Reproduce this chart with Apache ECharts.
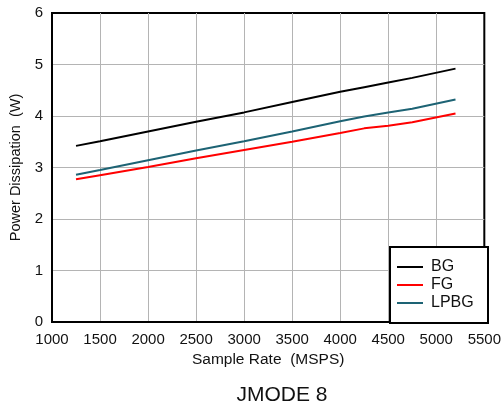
<!DOCTYPE html>
<html>
<head>
<meta charset="utf-8">
<script src="https://cdn.jsdelivr.net/npm/echarts@6/dist/echarts.min.js"></script>
<style>html,body{margin:0;padding:0;background:#fff;}#c{width:504px;height:407px;}</style>
</head>
<body>
<div id="c"></div>
<script>
var sampleRates = [1250, 1500, 2000, 2500, 3000, 3500, 4000, 4250, 4500, 4750, 5200];
var bgValues   = [3.42, 3.51, 3.70, 3.89, 4.07, 4.27, 4.47, 4.56, 4.65, 4.74, 4.92];
var fgValues   = [2.77, 2.85, 3.01, 3.18, 3.34, 3.50, 3.67, 3.76, 3.81, 3.88, 4.05];
var lpbgValues = [2.86, 2.95, 3.14, 3.33, 3.51, 3.70, 3.90, 3.99, 4.07, 4.14, 4.32];
var seriesNames = ['BG', 'FG', 'LPBG'];
var seriesColors = ['#000000', '#ff0000', '#1d6374'];

function pairs(xs, ys) { return xs.map(function (x, i) { return [x, ys[i]]; }); }

var font = 'Liberation Sans, Arial, sans-serif';
var chart = echarts.init(document.getElementById('c'), null, {renderer: 'canvas'});
chart.setOption({
  animation: false,
  backgroundColor: '#fff',
  textStyle: {fontFamily: font},
  title: {
    text: 'JMODE 8', left: 277, top: 380, textAlign: 'center',
    textStyle: {fontSize: 21, fontWeight: 'normal', color: '#111', fontFamily: font}
  },
  grid: {left: 52, right: 17, top: 13, bottom: 85, show: true, borderColor: '#000', borderWidth: 2, backgroundColor: 'transparent'},
  xAxis: {
    type: 'value', min: 1000, max: 5500, interval: 500,
    name: 'Sample Rate  (MSPS)', nameLocation: 'middle', nameGap: 30,
    nameTextStyle: {fontSize: 15.5, color: '#111', fontFamily: font},
    axisLine: {show: true, lineStyle: {color: '#000', width: 2}},
    axisTick: {show: false},
    axisLabel: {fontSize: 15, color: '#111', margin: 10, fontFamily: font, formatter: function (v) { return String(v); }},
    splitLine: {show: true, showMinLine: false, showMaxLine: false, lineStyle: {color: '#b4b4b4', width: 1}}
  },
  yAxis: {
    type: 'value', min: 0, max: 6, interval: 1,
    name: 'Power Dissipation  (W)', nameLocation: 'middle', nameGap: 29,
    nameTextStyle: {fontSize: 14.5, color: '#111', fontFamily: font},
    axisLine: {show: true, lineStyle: {color: '#000', width: 2}},
    axisTick: {show: false},
    axisLabel: {fontSize: 15, color: '#111', margin: 9, fontFamily: font},
    splitLine: {show: true, showMinLine: false, showMaxLine: false, lineStyle: {color: '#b4b4b4', width: 1}}
  },
  graphic: [{
    type: 'rect', left: 389, top: 246, z: 50,
    shape: {width: 98, height: 76},
    style: {fill: '#fff', stroke: '#000', lineWidth: 2}
  }],
  legend: {
    orient: 'vertical', left: 392, top: 254, z: 60,
    itemWidth: 26, itemHeight: 2, itemGap: 2, icon: 'rect',
    textStyle: {fontSize: 16, color: '#111', fontFamily: font, padding: [0, 0, 0, 3]},
    data: seriesNames
  },
  series: [
    {name: seriesNames[0], type: 'line', data: pairs(sampleRates, bgValues), showSymbol: false, lineStyle: {width: 2, color: seriesColors[0]}, itemStyle: {color: seriesColors[0]}},
    {name: seriesNames[1], type: 'line', data: pairs(sampleRates, fgValues), showSymbol: false, lineStyle: {width: 2, color: seriesColors[1]}, itemStyle: {color: seriesColors[1]}},
    {name: seriesNames[2], type: 'line', data: pairs(sampleRates, lpbgValues), showSymbol: false, lineStyle: {width: 2, color: seriesColors[2]}, itemStyle: {color: seriesColors[2]}}
  ]
});
</script>
</body>
</html>
